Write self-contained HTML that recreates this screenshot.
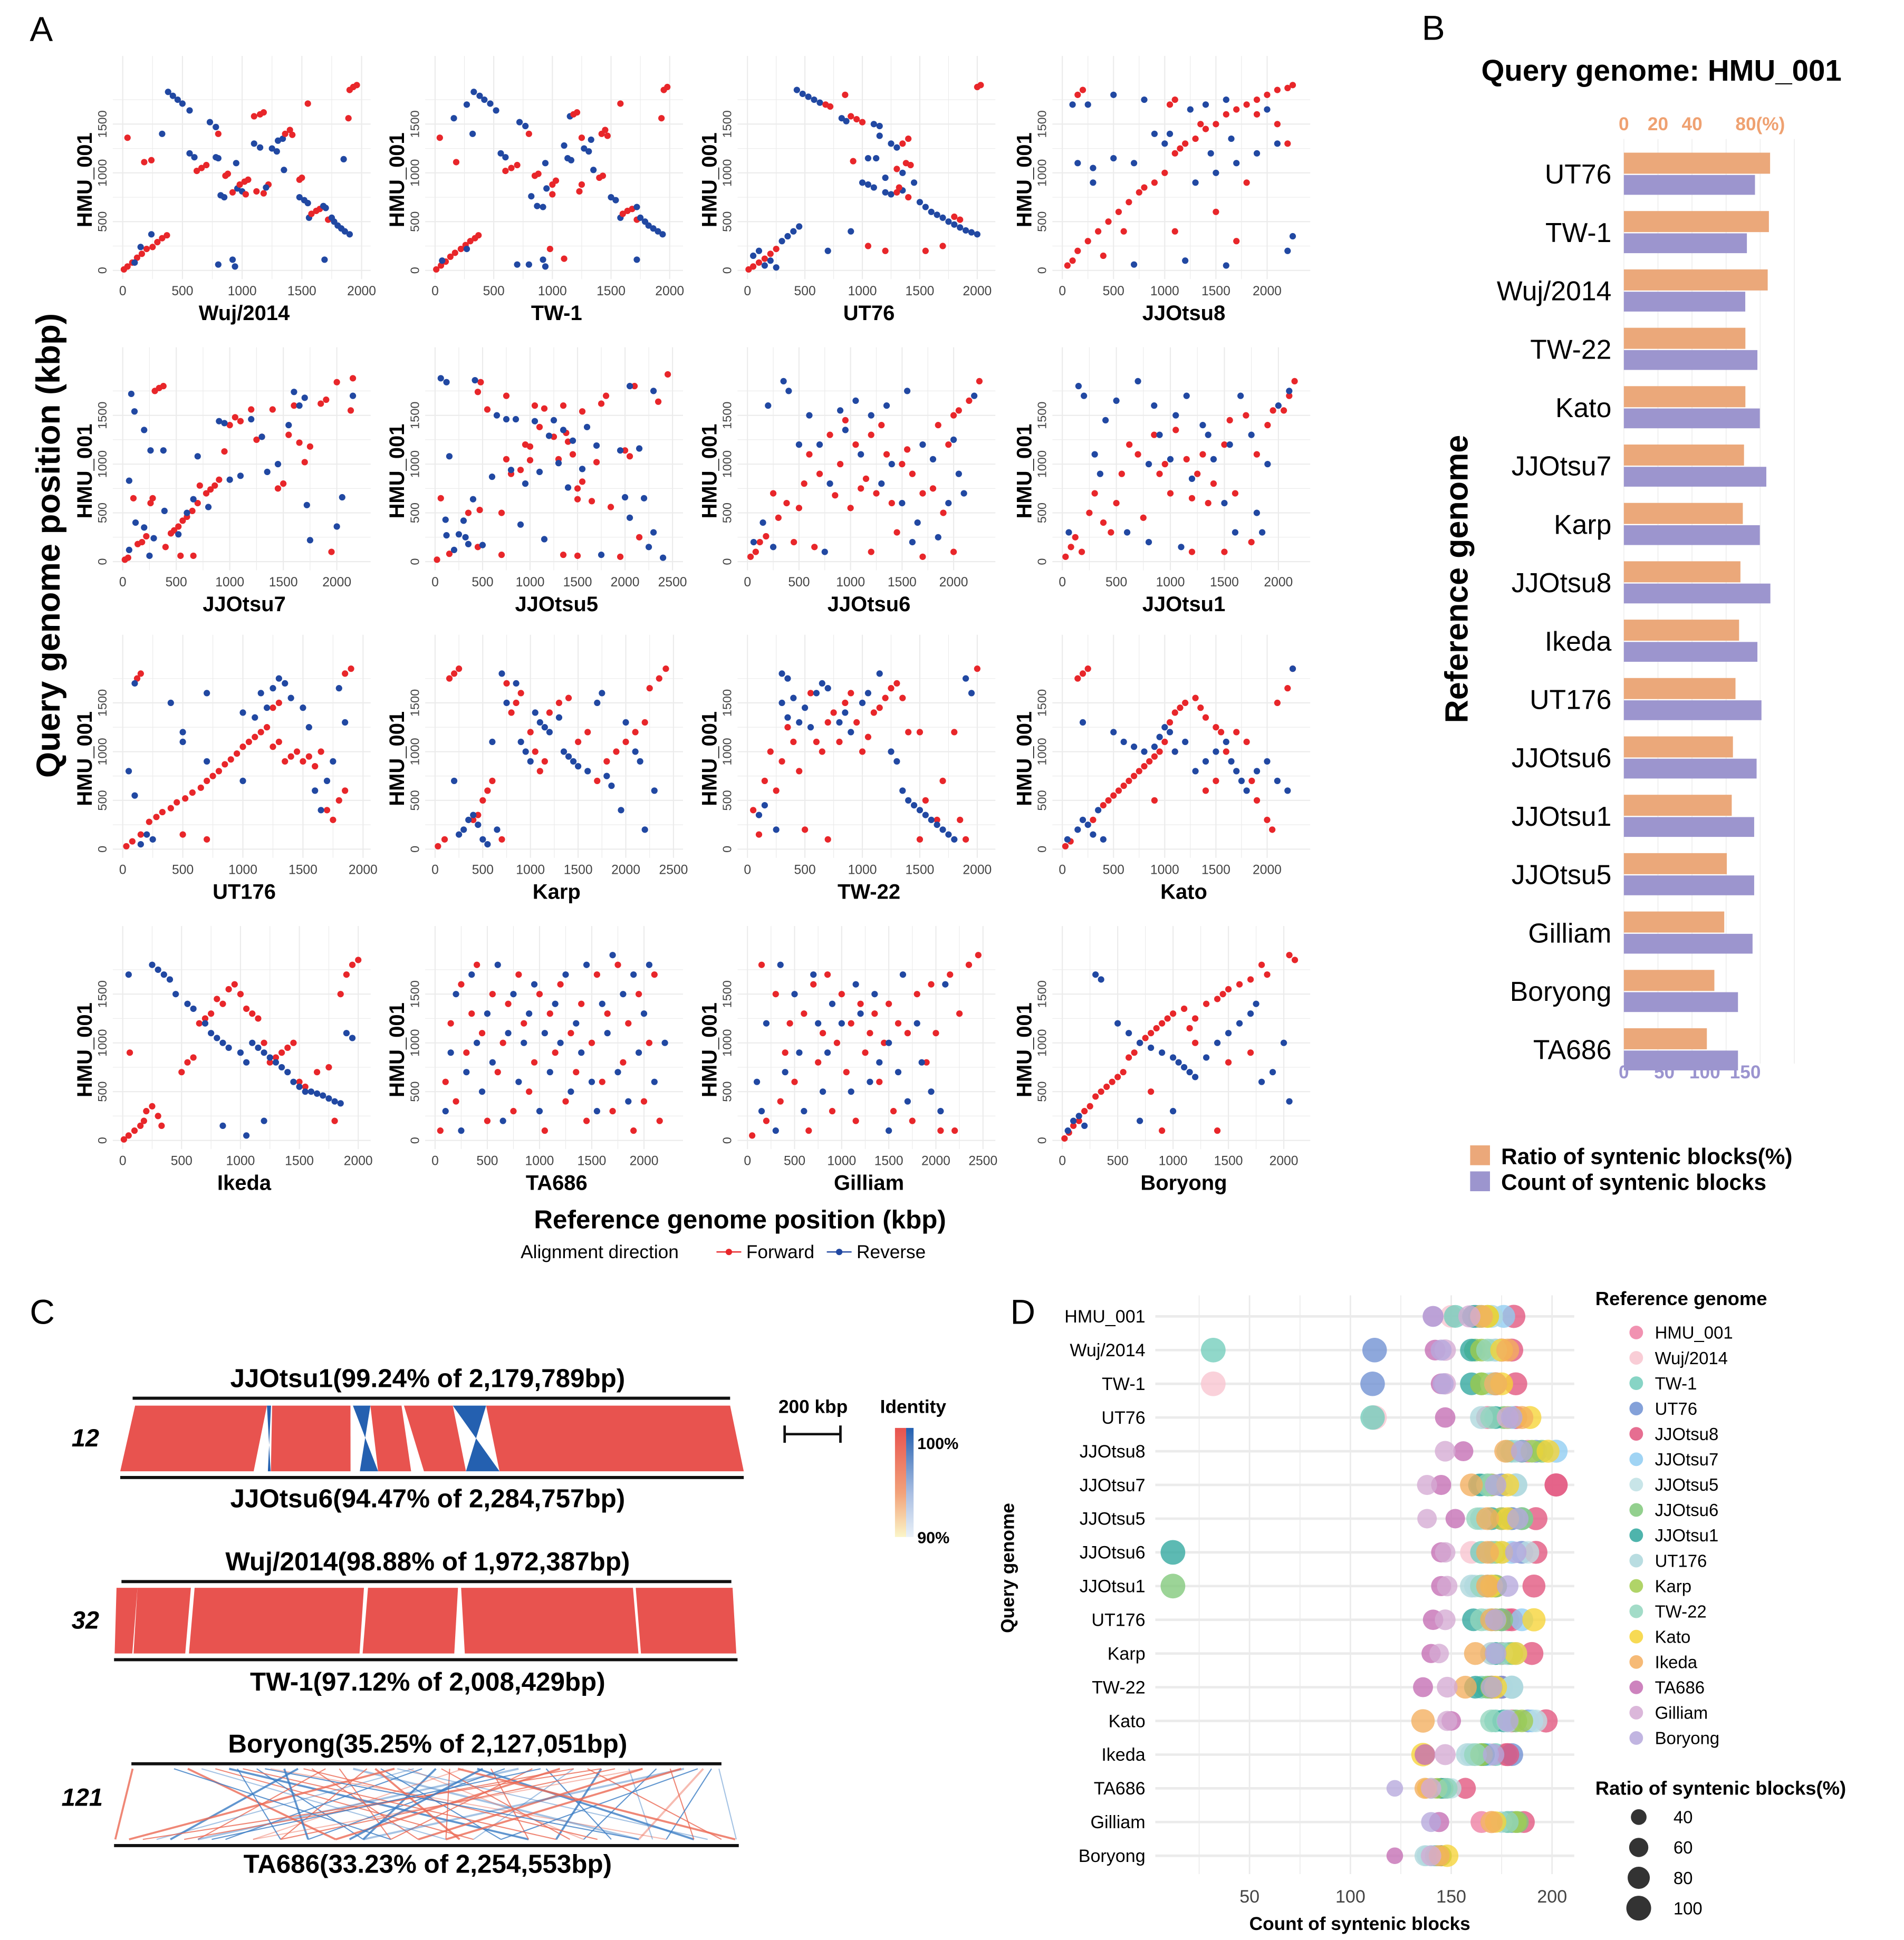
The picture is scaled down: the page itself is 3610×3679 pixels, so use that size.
<!DOCTYPE html>
<html><head><meta charset="utf-8"><style>
html,body{margin:0;padding:0;background:#fff}
svg{display:block}
text{font-family:"Liberation Sans",Arial,sans-serif}
.n{font-family:"Liberation Sans Narrow","Liberation Sans",sans-serif}
</style></head><body>
<svg id="fig" xmlns="http://www.w3.org/2000/svg" width="3610" height="3679" viewBox="0 0 1536 1565">
<rect width="1536" height="1565" fill="#fff"/>
<g id="gA"></g>
<g id="gB"></g>
<g id="gC"></g>
<g id="gD"></g>
<text x="24" y="33" font-size="28">A</text>
<text x="1147" y="32" font-size="28">B</text>
<text x="24" y="1068" font-size="28">C</text>
<text x="815" y="1068" font-size="28">D</text>
</svg>
<script>
// ===== Panel A data =====
const dotNames=["Wuj/2014","TW-1","UT76","JJOtsu8","JJOtsu7","JJOtsu5","JJOtsu6","JJOtsu1","UT176","Karp","TW-22","Kato","Ikeda","TA686","Gilliam","Boryong"];
const dotLens=[1972,2008,2050,2300,2200,2480,2285,2180,1960,2470,2050,2300,2000,2255,2500,2127];
const dotTicks=[[0,500,1000,1500,2000],[0,500,1000,1500,2000],[0,500,1000,1500,2000],[0,500,1000,1500,2000],[0,500,1000,1500,2000],[0,500,1000,1500,2000,2500],[0,500,1000,1500,2000],[0,500,1000,1500,2000],[0,500,1000,1500,2000],[0,500,1000,1500,2000,2500],[0,500,1000,1500,2000],[0,500,1000,1500,2000],[0,500,1000,1500,2000],[0,500,1000,1500,2000],[0,500,1000,1500,2000,2500],[0,500,1000,1500,2000]];
const yTicks=[0,500,1000,1500];
const dotData=[
"10,10,f 40,40,f 80,80,f 120,130,f 160,170,f 200,220,f 250,240,f 290,290,f 330,330,f 370,360,f 380,1830,r 420,1790,r 460,1750,r 500,1710,r 560,1640,r 730,1520,r 780,1470,r 1100,1580,f 1150,1600,f 1180,1620,f 1550,1710,f 1900,1850,f 1930,1880,f 1960,1900,f 1890,1560,f 40,1360,f 180,1110,f 240,1130,f 330,1400,r 560,1200,r 600,1160,r 620,1020,f 660,1050,f 700,1080,f 780,1160,r 800,1150,r 800,1400,f 860,970,f 880,990,f 950,1100,r 820,770,r 850,750,r 920,800,f 960,840,r 1000,810,r 1030,780,f 980,880,f 1020,910,f 1050,930,f 1100,1300,r 1150,1260,r 1120,810,f 1180,790,f 1220,880,f 1200,850,r 1250,1250,r 1290,1220,r 1300,1330,r 1340,1350,r 1360,1400,f 1400,1440,f 1420,1390,f 1350,1030,r 1500,950,f 1480,930,f 1480,750,r 1520,720,r 1550,690,r 1560,540,r 1580,580,f 1620,610,f 1650,630,f 1680,660,r 1700,640,r 1720,520,f 1750,540,r 1770,500,r 1800,460,r 1830,430,r 1860,400,r 1900,370,r 1850,1140,r 800,60,r 920,110,r 940,40,r 1690,110,r 150,240,r 100,80,r 240,370,r",
"10,10,f 50,50,f 90,90,f 130,140,f 170,180,f 220,220,f 260,260,f 300,300,f 340,330,f 370,360,f 330,1830,r 380,1790,r 420,1750,r 470,1710,r 520,1640,r 270,1700,r 160,1560,r 40,1360,f 180,1110,f 320,1400,r 560,1200,r 600,1160,r 600,1020,f 650,1050,f 700,1080,f 720,1520,r 770,1480,r 800,1400,f 850,970,f 880,990,f 940,1100,r 820,760,r 870,660,r 920,650,r 950,840,r 1000,880,f 1030,920,f 1000,780,f 1100,1280,r 1130,1150,r 1160,1130,r 1150,1580,r 1180,1600,f 1210,1620,f 1230,810,f 1250,880,f 1250,1360,f 1270,1250,r 1310,1220,r 1330,1340,r 1350,1030,r 1420,1400,f 1450,1440,f 1470,1380,f 1400,950,f 1430,970,f 1500,750,r 1540,720,r 1580,540,r 1600,580,f 1640,610,f 1680,630,f 1720,520,f 1720,650,r 1750,540,r 1790,500,r 1820,460,r 1860,430,r 1900,400,r 1940,370,r 1580,1710,f 1950,1850,f 1980,1880,f 1930,1560,f 980,220,f 1100,120,f 700,60,r 800,60,r 920,110,r 940,40,r 1720,110,r 60,100,r 270,220,r",
"10,10,f 50,40,f 100,80,f 150,120,f 200,170,f 250,220,f 300,300,r 350,350,r 400,400,r 450,450,r 430,1850,r 480,1810,r 530,1780,r 580,1750,r 630,1720,r 680,1700,f 720,1680,f 820,1560,r 860,1530,r 900,1580,f 950,1550,f 1000,1520,f 1100,1500,r 1150,1480,r 1150,1380,r 1250,1300,r 1300,1260,r 1350,1300,f 1400,1350,f 1380,1100,f 1420,1080,f 1300,1040,f 1000,900,r 1050,880,r 1100,850,r 1200,800,r 1250,780,r 1350,820,r 1450,900,r 1300,800,f 1320,850,f 1400,750,f 1500,700,r 1550,650,r 1600,600,r 1650,570,r 1700,540,r 1750,500,r 1800,470,r 1850,440,r 1900,410,r 1950,390,r 2000,370,r 1800,550,f 1850,520,f 2000,1880,f 2030,1900,f 1350,1000,r 1200,950,r 50,150,r 100,200,r 150,50,r 200,100,r 250,30,r 700,200,r 900,400,r 1050,250,f 1200,200,f 1550,200,f 1700,250,f 1120,1150,r 1050,1150,r 850,1800,f 920,1120,f",
"50,50,f 100,100,f 150,200,f 250,300,f 350,400,f 450,500,f 550,600,f 650,700,f 750,800,f 800,850,f 900,900,f 1000,1000,f 1100,1200,f 1150,1250,f 1200,1300,f 1300,1350,f 1400,1450,f 1500,1500,f 1600,1600,f 1700,1650,f 1800,1700,f 1900,1750,f 2000,1800,f 2100,1850,f 2200,1870,f 2250,1900,f 150,1800,f 200,1850,f 1050,1700,f 1100,1750,f 1350,1500,f 1900,1600,f 2100,1500,f 2200,1300,f 600,400,f 400,150,f 1100,400,f 1500,600,f 1700,300,f 1800,900,f 100,1700,r 250,1700,r 500,1800,r 800,1750,r 1050,1400,r 1250,1650,r 1400,1700,r 1600,1750,r 2000,1650,r 1300,900,r 1500,1000,r 1700,1100,r 1900,1200,r 2100,1300,r 2200,200,r 2250,350,r 300,1050,r 500,1150,r 700,1100,r 900,1400,r 1000,1300,r 150,1100,r 300,900,r 1600,50,r 1200,100,r 700,60,r 1450,1200,r 1650,1350,r",
"20,20,f 50,40,f 100,650,f 140,180,f 180,200,f 220,260,f 260,600,f 280,650,f 300,1750,f 340,1780,f 380,1800,f 400,150,f 450,290,f 480,320,f 520,360,f 560,420,f 600,460,f 650,520,f 700,600,f 720,780,f 780,700,f 820,740,f 860,780,f 900,840,f 950,1130,f 1000,1400,f 1050,1480,f 1100,1440,f 1200,1560,f 1250,1250,f 1300,1280,f 1400,1560,f 1450,750,f 1500,800,f 1550,1300,f 1600,1600,f 1650,1220,f 1700,1020,f 1750,1180,f 1850,1620,f 1900,1660,f 2000,1840,f 2150,1880,f 2130,1550,f 1950,100,f 540,60,f 660,60,f 60,830,r 80,1720,r 110,1540,r 200,1350,r 260,1140,r 380,1140,r 390,520,r 60,120,r 120,400,r 200,350,r 250,60,r 290,240,r 520,280,r 600,500,r 660,640,r 700,1080,r 800,560,r 900,1440,r 950,1420,r 1000,840,r 1100,880,r 1200,1460,r 1300,1280,r 1350,920,r 1450,1000,r 1550,1400,r 1600,1740,r 1650,1600,r 1700,1680,r 1720,580,r 1750,220,r 2000,360,r 2050,660,r 2150,1700,r",
"20,20,f 60,650,f 150,80,f 350,500,f 450,150,f 470,530,f 480,1840,f 450,1740,f 550,1560,f 700,500,f 700,70,f 750,1700,f 750,1050,f 800,900,f 900,940,f 950,1200,f 1000,1040,f 1000,1180,f 1050,1600,f 1100,1380,f 1150,1570,f 1250,1280,f 1300,1050,f 1350,1600,f 1380,1320,f 1400,1230,f 1450,1100,f 1500,640,f 1500,750,f 1550,820,f 1550,1540,f 1650,620,f 1700,1020,f 1750,1620,f 1800,1700,f 1850,560,f 1950,50,f 2000,1140,f 2050,1080,f 2100,1800,f 2150,250,f 2350,1640,f 2450,1920,f 1350,70,f 1500,60,f 60,1880,r 120,1840,r 150,1080,r 110,430,r 120,270,r 200,120,r 250,280,r 300,420,r 320,250,r 350,180,r 400,640,r 500,170,r 600,870,r 650,1500,r 750,1460,r 800,940,r 850,1460,r 900,380,r 950,800,r 1050,1440,r 1100,920,r 1150,230,r 1200,1290,r 1250,1450,r 1300,1010,r 1350,1350,r 1400,760,r 1450,1240,r 1550,950,r 1600,1380,r 1700,1190,r 1750,70,r 1950,1140,r 2000,660,r 2050,450,r 2150,1160,r 2200,650,r 2250,150,r 2300,300,r 2400,40,r 2300,1750,r 2050,1800,r 420,1860,r",
"30,50,f 80,100,f 120,200,f 180,260,f 250,700,f 300,450,f 380,600,f 450,200,f 500,550,f 550,800,f 600,1100,f 650,150,f 700,900,f 800,1300,f 850,680,f 900,1000,f 950,1450,f 1000,550,f 1050,1200,f 1100,750,f 1150,850,f 1200,1300,f 1250,700,f 1300,1400,f 1350,1100,f 1400,600,f 1450,300,f 1500,1000,f 1550,1150,f 1600,900,f 1700,700,f 1800,750,f 1850,1400,f 1900,500,f 1950,1200,f 2000,1500,f 2050,1550,f 2150,1650,f 2250,1850,f 2000,100,f 1700,50,f 1200,100,f 60,200,r 150,400,r 200,1600,r 250,150,r 350,1850,r 400,1750,r 500,1200,r 600,1500,r 700,1200,r 800,800,r 900,1550,r 950,1350,r 1050,1650,r 1100,1100,r 1200,1500,r 1300,800,r 1350,1600,r 1400,1000,r 1500,600,r 1550,1750,r 1650,400,r 1700,1200,r 1800,1050,r 1850,250,r 1950,600,r 2000,1250,r 2050,900,r 2100,700,r 2200,1700,r 750,100,r 1600,200,r",
"30,50,f 80,150,f 120,250,f 180,100,f 250,500,f 300,700,f 380,400,f 450,300,f 500,600,f 550,900,f 620,1200,f 700,1100,f 750,450,f 850,1300,f 900,900,f 950,1000,f 1000,700,f 1050,1350,f 1150,1050,f 1200,650,f 1250,900,f 1300,1100,f 1350,600,f 1400,800,f 1500,1200,f 1550,1450,f 1600,700,f 1700,1500,f 1750,200,f 1800,1100,f 1900,1400,f 1950,1550,f 2050,1550,f 2100,1700,f 2150,1850,f 1200,100,f 1500,100,f 60,300,r 150,1800,r 200,1700,r 300,1100,r 350,900,r 400,1450,r 500,1650,r 600,300,r 700,1850,r 800,1000,r 850,1600,r 900,1300,r 1000,1050,r 1050,1500,r 1150,1700,r 1200,850,r 1300,1400,r 1350,1300,r 1400,1050,r 1500,600,r 1550,1200,r 1600,300,r 1650,1700,r 1750,1300,r 1800,500,r 1850,300,r 1900,1000,r 2000,1600,r 2100,1750,r 800,200,r 1100,150,r",
"30,30,f 80,80,f 150,150,f 220,280,f 280,330,f 330,380,f 400,420,f 450,480,f 520,520,f 580,580,f 650,630,f 700,700,f 750,750,f 800,800,f 850,870,f 900,920,f 950,980,f 1000,1050,f 1050,1100,f 1100,1150,f 1150,1200,f 1200,1250,f 1250,1050,f 1300,1100,f 1350,900,f 1400,950,f 1450,1000,f 1500,900,f 1550,950,f 1600,850,f 1650,1000,f 1700,400,f 1750,300,f 1800,500,f 1850,600,f 1900,1850,f 1850,1800,f 150,1800,f 120,1750,f 500,150,f 700,100,f 1300,1500,f 1250,1450,f 100,1700,r 50,800,r 100,550,r 200,150,r 150,50,r 250,100,r 400,1500,r 500,1200,r 700,1600,r 1000,1400,r 1100,1350,r 1150,1600,r 1200,1450,r 1250,1650,r 1300,1750,r 1350,1700,r 1400,1550,r 1500,1450,r 1550,1250,r 1600,600,r 1650,400,r 1700,700,r 1750,900,r 1800,1650,r 1850,1300,r 500,1100,r 700,900,r 1000,700,r",
"30,30,f 100,100,f 150,1750,f 200,1800,f 250,1850,f 400,300,f 450,350,f 500,500,f 550,600,f 600,700,f 700,100,f 750,1700,f 800,1400,f 850,1500,f 900,1600,f 1000,1200,f 1050,1000,f 1100,800,f 1150,900,f 1200,1400,f 1300,1500,f 1400,1550,f 1500,1100,f 1600,1200,f 1700,700,f 1800,900,f 1900,1000,f 2000,1100,f 2100,1200,f 2200,1300,f 2250,1650,f 2350,1750,f 2420,1850,f 400,350,r 450,250,r 500,100,r 550,50,r 350,300,r 300,200,r 250,150,r 200,700,r 650,200,r 600,1100,r 700,1800,r 750,1500,r 850,1700,r 900,1100,r 950,1000,r 1000,900,r 1050,1400,r 1100,1300,r 1150,1250,r 1200,1200,r 1300,1350,r 1350,1000,r 1400,950,r 1450,900,r 1500,850,r 1600,800,r 1700,1500,r 1750,1600,r 1800,750,r 1850,650,r 1950,400,r 2000,1300,r 2100,1000,r 2150,900,r 2200,200,r 2300,600,r",
"50,400,f 100,150,f 150,700,f 200,1000,f 250,600,f 300,900,f 350,1250,f 400,1100,f 450,800,f 500,200,f 550,1600,f 600,1100,f 650,1000,f 700,1300,f 750,1400,f 800,1100,f 850,1500,f 900,1600,f 950,1300,f 1000,1000,f 1050,1150,f 1100,1400,f 1150,1450,f 1200,1550,f 1250,1650,f 1300,1700,f 1350,1550,f 1400,1200,f 1500,1200,f 1550,500,f 1650,300,f 1700,700,f 1800,1200,f 1850,300,f 1900,100,f 2000,1850,f 1500,100,f 700,100,f 100,350,r 150,450,r 250,200,r 300,1500,r 350,1350,r 400,1550,r 450,1300,r 500,1450,r 550,1250,r 600,1600,r 300,1800,r 350,1750,r 650,1700,r 700,1650,r 800,1300,r 850,1400,r 900,1200,r 1000,1500,r 1050,1600,r 1150,1800,r 1250,1000,r 1300,900,r 1350,600,r 1400,500,r 1450,450,r 1500,400,r 1550,350,r 1600,300,r 1650,250,r 1700,200,r 1750,150,r 1800,100,r 1900,1750,r 1950,1600,r",
"30,30,f 80,80,f 150,1750,f 200,1800,f 250,1850,f 300,300,f 400,450,f 450,500,f 500,550,f 550,600,f 600,650,f 650,700,f 700,750,f 750,800,f 800,850,f 850,900,f 900,950,f 950,1000,f 1000,1100,f 1050,1300,f 1100,1400,f 1150,1450,f 1200,1500,f 1300,1550,f 1350,1450,f 1400,1350,f 1500,1250,f 1550,1200,f 1600,1000,f 1700,1200,f 1800,1100,f 1850,700,f 1900,500,f 2000,300,f 2050,200,f 2100,1500,f 2200,1650,f 2250,1850,f 900,500,f 1100,1000,f 1400,600,f 1500,700,f 50,100,r 150,200,r 200,300,r 250,250,r 300,150,r 350,400,r 400,100,r 200,1300,r 500,1200,r 600,1100,r 700,1050,r 800,1000,r 900,1050,r 950,1150,r 1000,1250,r 1050,1200,r 1100,1000,r 1200,1100,r 1300,800,r 1400,900,r 1500,1000,r 1600,1100,r 1650,900,r 1700,800,r 1750,700,r 1800,600,r 1900,800,r 2000,900,r 2100,700,r 2200,600,r 2250,1850,r",
"10,10,f 50,50,f 100,100,f 150,150,f 180,200,f 200,300,f 250,350,f 300,250,f 330,150,f 60,900,f 500,700,f 550,800,f 600,850,f 650,1200,f 700,1250,f 750,1300,f 800,1450,f 850,1400,f 900,1550,f 950,1600,f 1000,1500,f 1050,1350,f 1100,1300,f 1150,1250,f 1200,1000,f 1250,800,f 1300,850,f 1350,900,f 1400,950,f 1450,1000,f 1500,600,f 1550,550,f 1650,700,f 1750,750,f 1800,200,f 1850,1500,f 1900,1700,f 1950,1800,f 2000,1850,f 50,1700,r 250,1800,r 300,1750,r 350,1700,r 400,1650,r 450,1500,r 550,1400,r 600,1350,r 700,1200,r 750,1100,r 800,1050,r 850,1000,r 900,950,r 1000,900,r 1050,800,r 1100,1000,r 1150,950,r 1200,900,r 1250,850,r 1300,800,r 1350,750,r 1400,700,r 1450,600,r 1500,550,r 1550,500,r 1600,500,r 1650,480,r 1700,460,r 1750,430,r 1800,400,r 1850,380,r 1900,1100,r 1950,1050,r 1200,200,r 1050,50,r 850,150,r",
"50,100,f 100,600,f 150,1200,f 200,400,f 250,1600,f 300,900,f 350,1300,f 400,1800,f 450,1100,f 500,200,f 550,1500,f 600,700,f 650,1000,f 700,1400,f 750,300,f 800,1700,f 850,1200,f 900,500,f 950,800,f 1000,1500,f 1050,100,f 1100,1300,f 1150,900,f 1200,1600,f 1250,400,f 1300,1100,f 1350,700,f 1400,1400,f 1450,200,f 1500,1000,f 1550,1700,f 1600,600,f 1650,1300,f 1700,300,f 1750,1800,f 1800,800,f 1850,1200,f 1900,100,f 1950,1500,f 2000,400,f 2050,1000,f 2100,1700,f 2150,200,f 100,300,r 150,900,r 200,1500,r 250,100,r 300,700,r 350,1700,r 400,1000,r 450,500,r 500,1300,r 550,800,r 600,1800,r 650,200,r 700,1100,r 750,1500,r 800,600,r 850,1000,r 900,1300,r 950,1600,r 1000,300,r 1050,1100,r 1100,700,r 1150,1400,r 1200,1000,r 1250,1700,r 1300,500,r 1350,1200,r 1400,900,r 1450,1800,r 1500,600,r 1550,300,r 1600,1400,r 1650,1100,r 1700,1900,r 1750,700,r 1800,1500,r 1850,400,r 1900,1700,r 1950,900,r 2000,1300,r 2050,1800,r 2100,600,r 2200,1000,r",
"50,50,f 150,1800,f 200,200,f 300,1500,f 350,400,f 400,900,f 450,1200,f 500,600,f 600,1300,f 650,100,f 700,1600,f 750,800,f 800,1100,f 850,1700,f 900,300,f 950,1000,f 1000,1500,f 1050,700,f 1100,1200,f 1150,200,f 1200,1400,f 1250,900,f 1300,1100,f 1350,1300,f 1400,600,f 1450,1000,f 1500,1400,f 1550,300,f 1600,1200,f 1700,1100,f 1750,200,f 1800,1500,f 1900,800,f 1950,1600,f 2000,1100,f 2050,100,f 2150,1700,f 2200,100,f 2250,1300,f 2350,1800,f 2450,1900,f 100,600,r 150,300,r 200,1200,r 300,100,r 350,1800,r 400,700,r 500,1500,r 550,900,r 600,300,r 700,1700,r 750,1200,r 800,500,r 850,900,r 900,1400,r 1000,1200,r 1100,500,r 1150,1600,r 1200,1300,r 1300,600,r 1350,1500,r 1400,800,r 1500,1000,r 1600,700,r 1650,1700,r 1700,400,r 1800,1200,r 1850,800,r 1950,500,r 2050,300,r 2100,1600,r 1500,100,r",
"20,20,f 60,80,f 100,150,f 150,200,f 200,300,f 250,350,f 300,450,f 350,500,f 400,550,f 450,600,f 500,650,f 550,700,f 600,850,f 650,900,f 700,1000,f 750,1050,f 800,1100,f 850,1150,f 900,1200,f 950,1250,f 1000,1300,f 1100,1350,f 1150,1150,f 1200,1250,f 1300,1400,f 1400,1450,f 1450,1500,f 1500,1550,f 1600,1600,f 1700,1650,f 1800,1800,f 1850,1700,f 2050,1900,f 2100,1850,f 1200,1000,f 1500,800,f 1700,900,f 900,100,f 1400,100,f 800,500,f 50,100,r 100,200,r 150,250,r 200,150,r 300,1700,r 350,1650,r 500,1200,r 600,1100,r 700,1000,r 800,950,r 900,900,r 1000,850,r 1050,800,r 1100,750,r 1150,700,r 1200,650,r 1300,850,r 1400,1000,r 1500,1100,r 1600,1200,r 1700,1300,r 1750,1400,r 1800,600,r 1900,700,r 2000,1000,r 2050,400,r 1000,300,r 700,200,r"
];

// ===== Panel B data =====
const barRefs=["UT76","TW-1","Wuj/2014","TW-22","Kato","JJOtsu7","Karp","JJOtsu8","Ikeda","UT176","JJOtsu6","JJOtsu1","JJOtsu5","Gilliam","Boryong","TA686"];
const barRatio=[85.8,85.1,84.4,71.3,71.3,70.5,69.8,68.4,67.6,65.5,64.0,63.3,60.4,58.9,53.1,48.7];
const barCount=[162,152,150,165,168,176,168,181,165,170,164,161,161,159,141,141];
const ratioTicks=[0,20,40,80];
const countTicks=[0,50,100,150];

// ===== Panel C data =====
const c1Blocks=[[0,483,0,489,"f"],[483,498,541,551,"r"],[502,789,552,844,"f"],[798,862,878,945,"r"],[862,976,945,1066,"f"],[985,1164,1113,1267,"f"],[1164,1286,1267,1390,"r"],[1286,2180,1390,2285,"f"]];
const c2Blocks=[[0,67,0,57,"f"],[67,238,61,228,"f"],[250,792,240,791,"f"],[805,1093,801,1097,"f"],[1103,1653,1131,1692,"f"],[1662,1972,1700,2008,"f"]];
const c3Top=[0,2127,300,350,450,500,600,650,700,800,850,900,950,1000,1050,1100,1150,1200,1250,1300,1350,1400,1450,1500,1550,1600,1650,1700,1750,1800,1850,1900,1950,2000,2050,2100,200,250,400,550,750,1020,1180,1600,1700,2070,380,620,880,960,1120,1270,1480,1850,1990,150,480];
const c3Bot=[0,2254,1300,1500,900,2000,200,1100,300,1900,600,1400,50,1700,400,900,1200,500,2100,1500,700,300,1000,1800,800,1300,2200,1600,600,1950,1100,1700,2100,900,1400,2000,800,1200,1600,700,1000,150,2250,250,100,1900,600,1750,1250,2150,1650,850,350,500,1200,1000,1900];
const c3Dir="frfrrfrffrfrffrrffrfrrfrfrfrfrfrfrrrfrfrfrffffrffrfrrffr";

// ===== Panel D data =====
const dRows=["HMU_001","Wuj/2014","TW-1","UT76","JJOtsu8","JJOtsu7","JJOtsu5","JJOtsu6","JJOtsu1","UT176","Karp","TW-22","Kato","Ikeda","TA686","Gilliam","Boryong"];
const dColors=["#EE7FA3","#F8C4CF","#72CDBB","#6E90D2","#E2557E","#8FCDF2","#BEE0E4","#80C87A","#2FA79D","#ADD7DC","#A2CC4E","#93D6BE","#F6D436","#F4AE5E","#C46DB3","#D5AAD4","#B6A8DC"];
const dCounts=[
[null,150,152,162,181,176,161,164,161,170,168,165,168,165,141,159,141],
[175,null,32,112,180,172,170,162,160,172,165,168,175,178,142,147,145],
[172,32,null,111,182,170,168,165,160,170,165,172,175,172,145,147,146],
[168,112,111,null,182,180,178,176,172,165,178,170,189,185,147,178,180],
[188,185,180,192,null,202,190,195,185,182,190,178,198,177,156,147,185],
[202,170,165,175,202,null,182,168,164,182,170,168,178,160,145,138,172],
[175,175,180,180,192,185,null,185,170,165,175,163,178,168,152,138,183],
[170,160,165,185,192,180,188,null,12,175,172,170,175,168,145,147,182],
[168,165,168,172,191,170,162,12,null,160,172,165,170,168,145,148,178],
[178,172,170,175,180,185,168,175,161,null,172,165,191,170,141,147,172],
[175,170,172,178,190,182,178,180,172,170,null,175,182,162,140,144,172],
[175,172,165,175,170,180,180,168,162,180,170,null,172,157,136,148,170],
[180,178,172,188,197,190,192,182,176,178,185,170,null,136,150,148,178],
[177,170,172,180,178,168,160,165,166,158,165,162,136,null,137,147,171],
[145,142,148,147,157,145,150,146,145,140,143,148,138,137,null,140,122],
[165,170,178,180,186,182,175,183,178,175,182,178,172,170,144,null,140],
[145,142,140,142,145,140,138,143,145,137,145,142,148,144,122,140,null]];
const dRatio=[
[0,85,85,86,88,86,84,85,84,86,85,85,86,85,70,80,72],
[88,0,99,98,86,85,84,85,84,86,84,85,85,86,70,75,72],
[88,99,0,98,86,85,84,85,84,86,84,85,85,86,70,75,72],
[86,97,97,0,86,85,84,85,84,86,84,85,86,86,68,78,75],
[85,84,84,85,0,86,84,85,84,85,84,84,86,85,65,70,78],
[86,84,84,85,88,0,84,85,84,88,84,85,85,85,66,66,75],
[84,84,84,85,86,85,0,85,84,85,84,82,85,85,62,62,75],
[84,84,84,85,86,85,84,0,99,85,84,85,85,85,66,68,75],
[84,84,84,85,86,85,84,99,0,85,84,85,85,85,66,68,75],
[85,84,84,85,86,85,84,85,84,0,84,85,88,85,68,70,75],
[85,84,84,85,86,85,84,85,84,85,0,85,85,85,60,62,75],
[85,84,84,85,86,85,84,85,84,88,84,0,85,85,65,70,75],
[86,84,84,85,88,85,84,85,84,86,84,85,0,90,62,66,75],
[85,84,84,85,86,85,84,85,84,85,84,85,90,0,70,72,75],
[70,68,68,70,72,70,68,70,70,72,70,70,66,72,0,68,45],
[78,75,75,78,78,78,75,78,78,75,78,78,75,80,66,0,65],
[72,70,70,72,72,72,70,72,72,72,70,70,82,72,45,68,0]];
const dTicks=[50,100,150,200];
const sizeLegend=[40,60,80,100];

const NS="http://www.w3.org/2000/svg";
function mk(tag,attrs,parent,txt){const e=document.createElementNS(NS,tag);for(const k in attrs)e.setAttribute(k,attrs[k]);if(txt!==undefined)e.textContent=txt;parent.appendChild(e);return e;}

// ===== Draw A =====
(function(){
const g=document.getElementById('gA');
const X0=[99,351,603,857],T=[45,280,512,747];
const yk=0.0787;
dotNames.forEach((nm,i)=>{
 const c=i%4,r=Math.floor(i/4);
 const x0=X0[c],t=T[r],y0=t+173,len=dotLens[i];
 const xs=k=>x0+k/len*190, ys=k=>y0-k*yk;
 const pg=mk('g',{},g);
 
 
 const maxT=dotTicks[i][dotTicks[i].length-1];
 for(let k=0;k<=maxT+1;k+=250){const gx=xs(k);if(gx>x0+200)break;mk('line',{x1:gx,x2:gx,y1:t,y2:t+180,stroke:'#ebebeb','stroke-width':k%500?0.5:0.9},pg);}
 for(let k=0;k<=1750;k+=250){const gy=ys(k);mk('line',{x1:x0-8,x2:x0+200,y1:gy,y2:gy,stroke:'#ebebeb','stroke-width':k%500?0.5:0.9},pg);}
 dotTicks[i].forEach(k=>{const tx=mk('text',{x:xs(k),y:t+193,'font-size':10.5,'text-anchor':'middle',fill:'#444'},pg,String(k));});
 yTicks.forEach(k=>{const tx=mk('text',{x:0,y:0,'font-size':10,'text-anchor':'middle',fill:'#444',transform:`translate(${x0-13},${ys(k)}) rotate(-90)`},pg,String(k));});
 const yl=mk('text',{x:0,y:0,'font-size':17,'font-weight':'bold','text-anchor':'middle',transform:`translate(${x0-25},${t+100}) rotate(-90)`},pg,'HMU_001');
 
 const xl=mk('text',{x:x0+98,y:t+213,'font-size':17,'font-weight':'bold','text-anchor':'middle'},pg,nm);
 
 dotData[i].split(' ').forEach(p=>{const [a,b,d]=p.split(',');
  const dt=mk('circle',{cx:xs(+a),cy:ys(+b),r:2.6,fill:d==='f'?'#E8262A':'#2148A2'},pg);
  });
});
const q=mk('text',{x:0,y:0,'font-size':27,'font-weight':'bold','text-anchor':'middle',transform:'translate(48,440) rotate(-90)'},g,'Query genome position (kbp)');

const rp=mk('text',{x:597,y:991,'font-size':21,'font-weight':'bold','text-anchor':'middle'},g,'Reference genome position (kbp)');

const lg=mk('g',{},g);
mk('text',{x:420,y:1015,'font-size':15},lg,'Alignment direction');
mk('line',{x1:578,x2:598,y1:1010,y2:1010,stroke:'#E8262A','stroke-width':1},lg);mk('circle',{cx:588,cy:1010,r:2.6,fill:'#E8262A'},lg);
mk('text',{x:602,y:1015,'font-size':15},lg,'Forward');
mk('line',{x1:667,x2:687,y1:1010,y2:1010,stroke:'#2148A2','stroke-width':1},lg);mk('circle',{cx:677,cy:1010,r:2.6,fill:'#2148A2'},lg);
mk('text',{x:691,y:1015,'font-size':15},lg,'Reverse');
})();

// ===== Draw B =====
(function(){
const g=document.getElementById('gB');
const x0=1310,rs=1.375,cs=0.653;
const ctr=i=>140+i*47.1;
const t=mk('text',{x:1195,y:65,'font-size':24,'font-weight':'bold'},g,'Query genome: HMU_001');

for(let k=0;k<=100;k+=20){mk('line',{x1:x0+k*rs,x2:x0+k*rs,y1:112,y2:858,stroke:'#f0f0f0','stroke-width':0.8},g);}
ratioTicks.forEach((k,j)=>{const tx=mk('text',{x:x0+k*rs,y:105,'font-size':15,'font-weight':'bold','text-anchor':'middle',fill:'#EFA171'},g,j===ratioTicks.length-1?k+'(%)':String(k));});
countTicks.forEach(k=>{const tx=mk('text',{x:x0+k*cs,y:870,'font-size':15,'font-weight':'bold','text-anchor':'middle',fill:'#9B94CF'},g,String(k));});
barRefs.forEach((nm,i)=>{const c=ctr(i);
 const lb=mk('text',{x:1300,y:c+8,'font-size':22,'text-anchor':'end'},g,nm);
 const b1=mk('rect',{x:x0,y:c-17,width:barRatio[i]*rs,height:17,fill:'#EBA87A'},g);
 const b2=mk('rect',{x:x0,y:c+1,width:barCount[i]*cs,height:16,fill:'#9C95CE'},g);
});
const ya=mk('text',{x:0,y:0,'font-size':26,'font-weight':'bold','text-anchor':'middle',transform:'translate(1184,467) rotate(-90)'},g,'Reference genome');

const l1=mk('g',{},g);
mk('rect',{x:1186,y:924,width:16,height:16,fill:'#EBA87A'},l1);mk('text',{x:1211,y:939,'font-size':18,'font-weight':'bold'},l1,'Ratio of syntenic blocks(%)');
const l2=mk('g',{},g);
mk('rect',{x:1186,y:945,width:16,height:16,fill:'#9C95CE'},l2);mk('text',{x:1211,y:960,'font-size':18,'font-weight':'bold'},l2,'Count of syntenic blocks');
})();

// ===== Draw C =====
(function(){
const g=document.getElementById('gC');
const RED='#E8534F',BLUE='#2460B0';
function label(x,y,a,b,nm){const t=mk('text',{x:x,y:y,'font-size':21,'font-weight':'bold','text-anchor':'middle',class:'n'},g);
 const s1=mk('tspan',{},t,a);const s2=mk('tspan',{},t,b);}
function track(blocks,ty,by,tx0,tLen,tw,bx0,bLen,bw,name){
 const tg=mk('g',{},g);
 blocks.forEach(b=>{const [a1,a2,b1,b2,d]=b;const X1=tx0+a1/tLen*tw,X2=tx0+a2/tLen*tw,B1=bx0+b1/bLen*bw,B2=bx0+b2/bLen*bw;
  const pts=d==='f'?`${X1},${ty} ${X2},${ty} ${B2},${by} ${B1},${by}`:`${X1},${ty} ${X2},${ty} ${B1},${by} ${B2},${by}`;
  const p=mk('polygon',{points:pts,fill:d==='f'?RED:BLUE},tg);});
}
// track 1
label(345,1119,'JJOtsu1','(99.24% of  2,179,789bp)','track1-ref-label');
mk('line',{x1:107,x2:589,y1:1128,y2:1128,stroke:'#111','stroke-width':2.5},g);
track(c1Blocks,1134,1187,109,2180,480,97,2285,503,'track1-blocks');
mk('line',{x1:97,x2:600,y1:1192,y2:1192,stroke:'#111','stroke-width':2.5},g);
label(345,1216,'JJOtsu6','(94.47% of 2,284,757bp)','track1-query-label');
mk('text',{x:80,y:1167,'font-size':20,'font-weight':'bold','font-style':'italic','text-anchor':'end'},g,'12');
// track 2
label(345,1267,'Wuj/2014','(98.88% of 1,972,387bp)','track2-ref-label');
mk('line',{x1:98,x2:590,y1:1276,y2:1276,stroke:'#111','stroke-width':2.5},g);
track(c2Blocks,1281,1334,94,1972,497,92.5,2008,501.5,'track2-blocks');
mk('line',{x1:92,x2:595,y1:1339,y2:1339,stroke:'#111','stroke-width':2.5},g);
label(345,1364,'TW-1','(97.12% of 2,008,429bp)','track2-query-label');
mk('text',{x:80,y:1314,'font-size':20,'font-weight':'bold','font-style':'italic','text-anchor':'end'},g,'32');
// track 3
label(345,1414,'Boryong','(35.25% of 2,127,051bp)','track3-ref-label');
mk('line',{x1:106,x2:582,y1:1423,y2:1423,stroke:'#111','stroke-width':2.5},g);
const lg=mk('g',{},g);
c3Top.forEach((tk,i)=>{const x1=107+tk/2127*473,x2=93+c3Bot[i]/2254*501;const d=c3Dir[i];
 const l=mk('line',{x1:x1,x2:x2,y1:1427,y2:1484,stroke:d==='f'?'#EC6A55':'#3A7CC4','stroke-width':(i%3===0?1.6:0.9),opacity:(i%4===1?0.45:0.8)},lg);
 });
mk('line',{x1:92,x2:596,y1:1489,y2:1489,stroke:'#111','stroke-width':2.5},g);
label(345,1511,'TA686','(33.23% of 2,254,553bp)','track3-query-label');
mk('text',{x:83,y:1457,'font-size':20,'font-weight':'bold','font-style':'italic','text-anchor':'end'},g,'121');
// scale bar + identity legend
const sb=mk('g',{},g);
mk('text',{x:628,y:1140,'font-size':15,'font-weight':'bold',class:'n'},sb,'200 kbp');
mk('path',{d:'M633,1150 V1164 M633,1157 H678 M678,1150 V1164',stroke:'#111','stroke-width':2,fill:'none'},sb);
const il=mk('g',{},g);
mk('text',{x:710,y:1140,'font-size':15,'font-weight':'bold',class:'n'},il,'Identity');
const defs=mk('defs',{},il);
const gr1=mk('linearGradient',{id:'gr1',x1:0,y1:0,x2:0,y2:1},defs);mk('stop',{offset:0,'stop-color':'#E8534F'},gr1);mk('stop',{offset:0.6,'stop-color':'#F2A27A'},gr1);mk('stop',{offset:1,'stop-color':'#FBF5C8'},gr1);
const gr2=mk('linearGradient',{id:'gr2',x1:0,y1:0,x2:0,y2:1},defs);mk('stop',{offset:0,'stop-color':'#2460B0'},gr2);mk('stop',{offset:0.6,'stop-color':'#A9BEE2'},gr2);mk('stop',{offset:1,'stop-color':'#EAF1F8'},gr2);
mk('rect',{x:722,y:1152,width:9,height:88,fill:'url(#gr1)'},il);
mk('rect',{x:731,y:1152,width:6,height:88,fill:'url(#gr2)'},il);
mk('text',{x:740,y:1169,'font-size':13,'font-weight':'bold',class:'n'},il,'100%');
mk('text',{x:740,y:1245,'font-size':13,'font-weight':'bold',class:'n'},il,'90%');
})();

// ===== Draw D =====
(function(){
const g=document.getElementById('gD');
const xs=v=>926.7+v*1.627;
const rowY=i=>1062+i*27.2;
for(let v=25;v<=212;v+=25){const gx=xs(v);mk('line',{x1:gx,x2:gx,y1:1045,y2:1512,stroke:'#ebebeb','stroke-width':v%50?0.7:1.2},g);}
dRows.forEach((nm,i)=>{mk('line',{x1:932,x2:1270,y1:rowY(i),y2:rowY(i),stroke:'#ebebeb','stroke-width':2},g);
 const t=mk('text',{x:924,y:rowY(i)+5,'font-size':14.5,'text-anchor':'end',class:'n'},g,nm);});
const rad=p=>Math.sqrt(p)*1.0;
dCounts.forEach((row,i)=>{row.forEach((v,j)=>{if(v===null)return;
 const c=mk('circle',{cx:xs(v),cy:rowY(i),r:rad(dRatio[i][j]),fill:dColors[j],'fill-opacity':0.78},g);
 });});
dTicks.forEach(v=>{const t=mk('text',{x:xs(v),y:1535,'font-size':14.5,'text-anchor':'middle',fill:'#444',class:'n'},g,String(v));});
const xt=mk('text',{x:1097,y:1557,'font-size':15,'font-weight':'bold','text-anchor':'middle',class:'n'},g,'Count of syntenic blocks');

const yt=mk('text',{x:0,y:0,'font-size':15,'font-weight':'bold','text-anchor':'middle',transform:'translate(818,1265) rotate(-90)',class:'n'},g,'Query genome');

const lg=mk('g',{},g);
mk('text',{x:1287,y:1053,'font-size':15.5,'font-weight':'bold',class:'n'},lg,'Reference genome');
dRows.forEach((nm,j)=>{const y=1075+j*20.45;
 const e=mk('g',{},lg);
 mk('circle',{cx:1320,cy:y,r:5.5,fill:dColors[j],'fill-opacity':0.85},e);mk('text',{x:1335,y:y+5,'font-size':14,class:'n'},e,nm);});
const sl=mk('g',{},g);
mk('text',{x:1287,y:1448,'font-size':15.5,'font-weight':'bold',class:'n'},sl,'Ratio of syntenic blocks(%)');
sizeLegend.forEach((p,k)=>{const y=1466+k*24.5;mk('circle',{cx:1322,cy:y,r:rad(p),fill:'#333'},sl);mk('text',{x:1350,y:y+5,'font-size':14,class:'n'},sl,String(p));});
})();
</script>
</body></html>
